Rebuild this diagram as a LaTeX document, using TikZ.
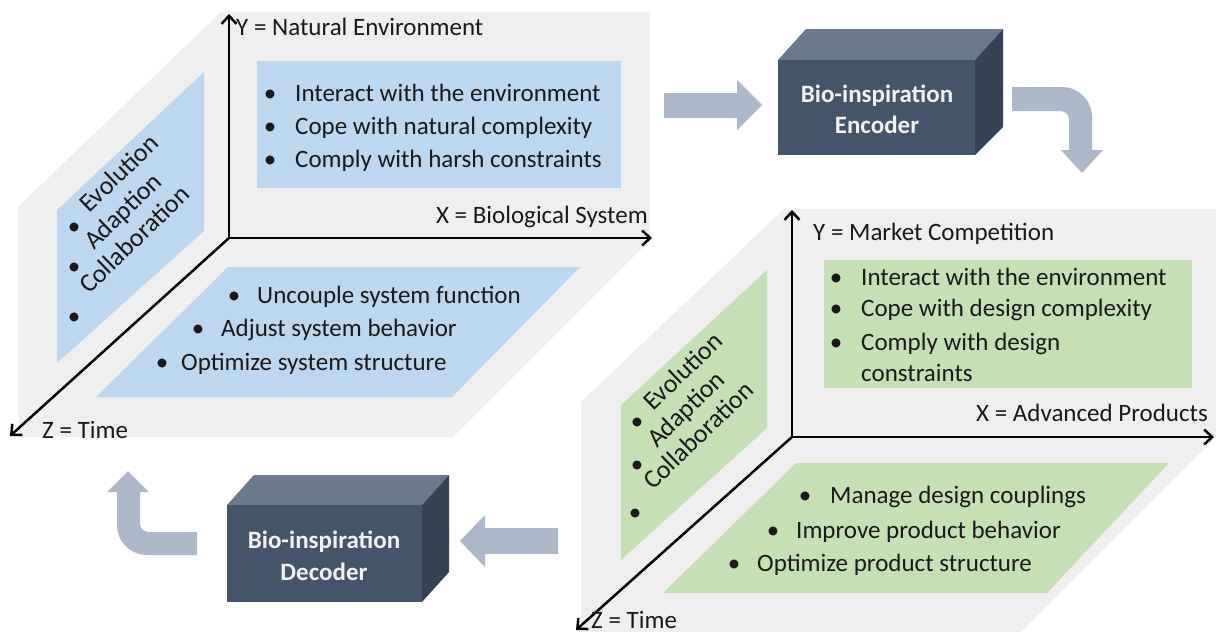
\documentclass[tikz,border=0pt]{standalone}
\usepackage{fontspec}
\setmainfont{Carlito}
\usetikzlibrary{arrows.meta}
\definecolor{panelgray}{HTML}{EFEFEF}
\definecolor{bluefill}{HTML}{BDD7EE}
\definecolor{greenfill}{HTML}{C5E0B4}
\definecolor{boxfront}{HTML}{44546A}
\definecolor{boxtop}{HTML}{6A798D}
\definecolor{boxside}{HTML}{354253}
\definecolor{arrowfill}{HTML}{ADB9CA}
\definecolor{textdark}{HTML}{1A1A1A}
\definecolor{boxtext}{HTML}{F2F2F2}
\begin{document}
\begin{tikzpicture}[x=1pt,y=-1pt,
  txt/.style={font=\fontsize{25}{30}\selectfont, text=textdark, inner sep=0pt, anchor=base west},
  bul/.style={font=\fontsize{25}{30}\selectfont, text=textdark, inner sep=0pt, anchor=base},
  walltxt/.style={font=\fontsize{26}{30}\selectfont, text=textdark, inner sep=0pt, anchor=base west, rotate=44},
  boxtxt/.style={font=\fontsize{25}{30}\selectfont\bfseries, text=boxtext, inner sep=0pt, anchor=base},
  axis/.style={line width=2.5pt, -{Straight Barb[length=8pt,width=15pt,line width=2.5pt]}},
  flowarrow/.style={fill=arrowfill}
]
\useasboundingbox (0,0) rectangle (1216,632);
\clip (0,0) rectangle (1216,632);
\fill[white] (0,0) rectangle (1216,632);

% ---------------- Left panel ----------------
\fill[panelgray] (221,12) -- (650,12) -- (650,240) -- (453,437) -- (18,437) -- (18,207) -- cycle;
\fill[bluefill] (257,61) rectangle (621,188);
\fill[bluefill] (204,72) -- (204,231) -- (57,363) -- (57,210) -- cycle;
\fill[bluefill] (228,267) -- (580,267) -- (452,397) -- (96,397) -- cycle;

\coordinate (O1) at (229,238);
\coordinate (Y1) at (229,14);
\coordinate (X1) at (652,238);
\coordinate (Z1) at (10,436);
\draw[axis] (O1) -- (Y1);
\draw[axis] (O1) -- (X1);
\draw[axis] (O1) -- (Z1);

\node[txt] (ly1) at (236,35) {Y = Natural Environment};
\node[txt, anchor=base east] (lx1) at (648,223) {X = Biological System};
\node[txt] (lz1) at (42,438) {Z = Time};

\node[bul] (lb1) at (270,101) {•};
\node[txt] (lt1) at (295,101) {Interact with the environment};
\node[bul] (lb2) at (270,134) {•};
\node[txt] (lt2) at (295,134) {Cope with natural complexity};
\node[bul] (lb3) at (270,167) {•};
\node[txt] (lt3) at (295,167) {Comply with harsh constraints};

\node[bul] (lf1b) at (234,303) {•};
\node[txt] (lf1) at (257,303) {Uncouple system function};
\node[bul] (lf2b) at (198,336) {•};
\node[txt] (lf2) at (221,336) {Adjust system behavior};
\node[bul] (lf3b) at (162,370) {•};
\node[txt] (lf3) at (181,370) {Optimize system structure};

\node[bul] (lw1b) at (74,234) {•};
\node[bul] (lw2b) at (74,274) {•};
\node[bul] (lw3b) at (74,324) {•};
\node[walltxt] (lw1) at (89,214) {Evolution};
\node[walltxt] (lw2) at (94,251) {Adaption};
\node[walltxt] (lw3) at (89,295) {Collaboration};

% ---------------- Right panel ----------------
\fill[panelgray] (784,209) -- (1216,209) -- (1216,437) -- (1021,632) -- (581,632) -- (581,402) -- cycle;
\fill[greenfill] (824,260) rectangle (1192,388);
\fill[greenfill] (767,270) -- (767,428) -- (621,560) -- (621,405) -- cycle;
\fill[greenfill] (796,463) -- (1169,463) -- (1047,593) -- (663,593) -- cycle;

\coordinate (O2) at (792,437);
\coordinate (Y2) at (792,210);
\coordinate (X2) at (1214,437);
\coordinate (Z2) at (576,630);
\draw[axis] (O2) -- (Y2);
\draw[axis] (O2) -- (X2);
\draw[axis] (O2) -- (Z2);

\node[txt] (ry2) at (813,240) {Y = Market Competition};
\node[txt, anchor=base east] (rx2) at (1208,421) {X = Advanced Products};
\node[txt] (rz2) at (591,628) {Z = Time};

\node[bul] (rb1) at (836,285) {•};
\node[txt] (rt1) at (861,285) {Interact with the environment};
\node[bul] (rb2) at (836,316) {•};
\node[txt] (rt2) at (861,316) {Cope with design complexity};
\node[bul] (rb3) at (836,350) {•};
\node[txt] (rt3) at (861,350) {Comply with design};
\node[txt] (rt4) at (861,381) {constraints};

\node[bul] (rf1b) at (805,503) {•};
\node[txt] (rf1) at (830,503) {Manage design couplings};
\node[bul] (rf2b) at (773,538) {•};
\node[txt] (rf2) at (796,538) {Improve product behavior};
\node[bul] (rf3b) at (734,571) {•};
\node[txt] (rf3) at (757,571) {Optimize product structure};

\node[bul] (rw1b) at (637,429) {•};
\node[bul] (rw2b) at (637,472) {•};
\node[bul] (rw3b) at (635,520) {•};
\node[walltxt] (rw1) at (653,412) {Evolution};
\node[walltxt] (rw2) at (657,449) {Adaption};
\node[walltxt] (rw3) at (653,491) {Collaboration};

% ---------------- Encoder ----------------
\fill[boxtop] (778,60) -- (975,60) -- (1003,29) -- (806,29) -- cycle;
\fill[boxside] (975,60) -- (1003,29) -- (1003,127) -- (975,155) -- cycle;
\fill[boxfront] (778,60) rectangle (975,155);
\node[boxtxt] (enc1) at (877,102) {Bio-inspiration};
\node[boxtxt] (enc2) at (877,133) {Encoder};

% ---------------- Decoder ----------------
\fill[boxtop] (227,505) -- (422,505) -- (449,475) -- (254,475) -- cycle;
\fill[boxside] (422,505) -- (449,475) -- (449,572) -- (422,602) -- cycle;
\fill[boxfront] (227,505) rectangle (422,602);
\node[boxtxt] (dec1) at (324,548) {Bio-inspiration};
\node[boxtxt] (dec2) at (324,580) {Decoder};

% ---------------- Flow arrows ----------------
% into encoder
\fill[flowarrow] (664,93) -- (737,93) -- (737,80) -- (762,105) -- (737,130) -- (737,118) -- (664,118) -- cycle;
% encoder to right panel (bent down)
\fill[flowarrow] (1012,87) -- (1062,87)
  .. controls (1078.6,87) and (1092,100.4) .. (1092,117)
  -- (1092,150) -- (1103,150) -- (1082,173) -- (1061,150) -- (1069,150) -- (1069,120)
  .. controls (1069,114.5) and (1065.5,111) .. (1060,111)
  -- (1012,111) -- cycle;
% into decoder (pointing left)
\fill[flowarrow] (558,528) -- (485,528) -- (485,515) -- (460,541) -- (485,567) -- (485,554) -- (558,554) -- cycle;
% decoder to left panel (bent up)
\fill[flowarrow] (197,555) -- (147,555)
  .. controls (130.4,555) and (117,541.6) .. (117,525)
  -- (117,492) -- (107,492) -- (128,471) -- (149,492) -- (140,492) -- (140,523)
  .. controls (140,528.5) and (143.5,532) .. (149,532)
  -- (197,532) -- cycle;
\end{tikzpicture}
\end{document}
